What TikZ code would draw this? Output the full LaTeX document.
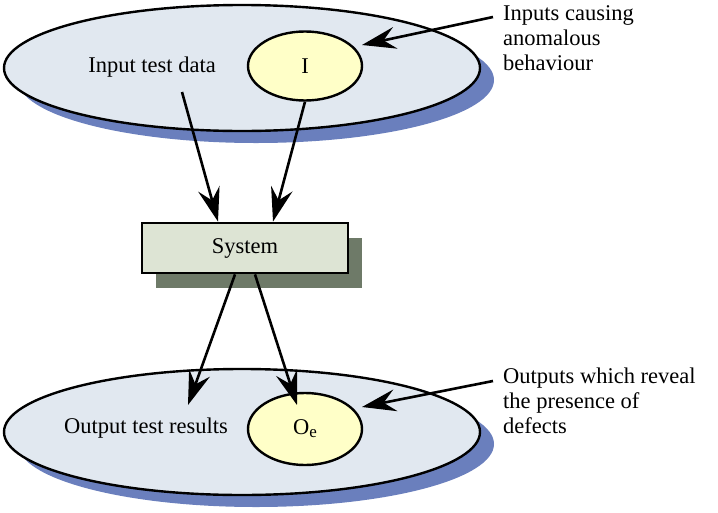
\documentclass[tikz,border=0pt]{standalone}
\usepackage{fontspec}
\setmainfont{Liberation Serif}
\usetikzlibrary{shapes.geometric,arrows.meta,calc}
\definecolor{bigfill}{HTML}{E1E8F0}
\definecolor{bigshadow}{HTML}{6A7FBD}
\definecolor{smallfill}{HTML}{FFFFC8}
\definecolor{boxfill}{HTML}{DDE4D4}
\definecolor{boxshadow}{HTML}{6E7A68}
\tikzset{
  txt/.style={font=\fontsize{22.5}{25}\selectfont, inner sep=0pt},
  bigell/.style={ellipse, draw=black, line width=2.4pt, fill=bigfill, minimum width=476pt, minimum height=126pt, inner sep=0pt},
  bigshad/.style={ellipse, fill=bigshadow, minimum width=476pt, minimum height=126pt, inner sep=0pt},
  smallell/.style={ellipse, draw=black, line width=2.4pt, fill=smallfill, minimum width=114pt, minimum height=69pt, inner sep=0pt, font=\fontsize{22.5}{25}\selectfont},
  sysbox/.style={rectangle, draw=black, line width=2.8pt, fill=boxfill, minimum width=206pt, minimum height=50pt, inner sep=0pt, font=\fontsize{22.5}{25}\selectfont},
  sysshad/.style={rectangle, fill=boxshadow, minimum width=206pt, minimum height=50pt, inner sep=0pt},
  arr/.style={line width=2.6pt, -{Stealth[length=34pt, width=22pt, inset=12pt]}},
}
\begin{document}
\begin{tikzpicture}[x=1pt, y=-1pt]
\useasboundingbox (0,0) rectangle (718,512);
% top ellipse
\node[bigshad] (topsh) at (256,80) {};
\node[bigell] (top) at (242,68) {};
\node[smallell] (I) at (305,66) {I};
\node[txt] (itd) at (152,67) {Input test data};
% system
\node[sysshad] (syssh) at (259,263) {};
\node[sysbox] (sys) at (245,248) {System};
% bottom ellipse
\node[bigshad] (botsh) at (256,444) {};
\node[bigell] (bot) at (242,432) {};
\node[smallell, minimum height=72pt] (O) at (305,429) {O\raisebox{-0.3ex}{\fontsize{17}{17}\selectfont e}};
\node[txt] (otr) at (146,428) {Output test results};
% labels
\node[txt, anchor=north west, align=left] (lab1) at (503,5) {Inputs causing\\anomalous\\behaviour};
\node[txt, anchor=north west, align=left] (lab2) at (503,368) {Outputs which reveal\\the presence of\\defects};
% coordinates
\coordinate (a1s) at (493,17);
\coordinate (a1e) at (362,45);
\coordinate (a2s) at (493,381);
\coordinate (a2e) at (362,407);
\coordinate (itds) at (182,92);
\coordinate (otre) at (188,405);
\coordinate (oe) at (297,405);
% arrows
\draw[arr] (a1s) -- (a1e);
\draw[arr] (a2s) -- (a2e);
\draw[arr] (itds) -- ($(sys.north)+(-27,0)$);
\draw[arr] (I.south) -- ($(sys.north)+(28,0)$);
\draw[arr] ($(sys.south)+(-10,0)$) -- (otre);
\draw[arr] ($(sys.south)+(10,0)$) -- (oe);
\end{tikzpicture}
\end{document}
